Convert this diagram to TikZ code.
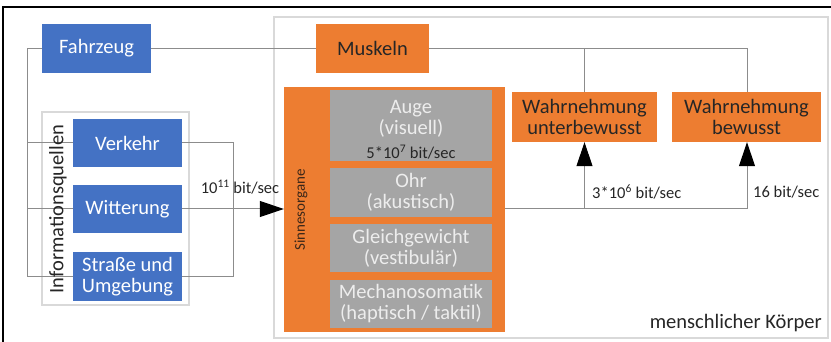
\documentclass[tikz,border=0pt]{standalone}
\usepackage{fontspec}
\setmainfont{Carlito}
\usetikzlibrary{arrows.meta}
\definecolor{cblue}{HTML}{4472C4}
\definecolor{corange}{HTML}{ED7D31}
\definecolor{cgray}{HTML}{A5A5A5}
\definecolor{cline}{HTML}{8C8C8C}
\definecolor{cframe}{HTML}{D9D9D9}
\definecolor{ctext}{HTML}{262626}
\newcommand{\bigf}{\fontsize{20.5}{24}\selectfont}
\newcommand{\smallf}{\fontsize{16.5}{19}\selectfont}
\tikzset{
  x=1pt, y=-1pt,
  box/.style={inner sep=0pt, align=center, font=\bigf},
  bluebox/.style={box, fill=cblue, text=white},
  orangebox/.style={box, fill=corange, text=ctext},
  graybox/.style={box, fill=cgray, text=white!93!black, minimum width=162pt},
  conn/.style={draw=cline, line width=1pt},
  arr/.style={conn, -{Triangle[width=16pt,length=24pt,color=black]}},
  lbl/.style={inner sep=0pt, font=\smallf, text=ctext},
}
\begin{document}
\begin{tikzpicture}
\useasboundingbox (0,0) rectangle (831,342);
\fill[white] (0,0) rectangle (831,342);
% outer frame
\draw[line width=2pt, black] (3,342) -- (3,7) -- (831,7);
% body frame
\draw[cframe, line width=1.5pt] (274,17) rectangle (828,338);
\node[lbl, font=\bigf, anchor=east] (koerper) at (822,323) {menschlicher Körper};
% info sources frame
\draw[cframe, line width=1.5pt] (42,112) rectangle (189,305);

% nodes
\node[bluebox, minimum width=109pt, minimum height=49pt] (fahrzeug) at (96.5,48.5) {Fahrzeug};
\node[bluebox, minimum width=109pt, minimum height=48pt] (verkehr) at (127.5,143) {Verkehr};
\node[bluebox, minimum width=109pt, minimum height=48pt] (witterung) at (127.5,209) {Witterung};
\node[bluebox, minimum width=109pt, minimum height=49pt] (strasse) at (127.5,276.5) {Straße und\\[-3pt]Umgebung};
\node[orangebox, minimum width=113pt, minimum height=49pt] (muskeln) at (372.5,48.5) {Muskeln};
\node[orangebox, minimum width=221pt, minimum height=245pt] (sinne) at (394.5,209.5) {};
\node[graybox, minimum height=71pt] (auge) at (411,125.5) {};
\node[box, text=white!93!black] (augetxt) at (411,119) {Auge\\[-3pt](visuell)};
\node[lbl, text=ctext] (augerate) at (411,152) {5*10\textsuperscript{7} bit/sec};
\node[graybox, minimum height=49pt] (ohr) at (411,192.5) {Ohr\\[-3pt](akustisch)};
\node[graybox, minimum height=48pt] (gleich) at (411,248) {Gleichgewicht\\[-3pt](vestibulär)};
\node[graybox, minimum height=48pt] (mech) at (411,304) {Mechanosomatik\\[-3pt](haptisch / taktil)};
\node[orangebox, minimum width=145pt, minimum height=50pt] (wu) at (584.5,117) {Wahrnehmung\\[-3pt]unterbewusst};
\node[orangebox, minimum width=149pt, minimum height=50pt] (wb) at (746.5,117) {Wahrnehmung\\[-3pt]bewusst};

% coordinates
\coordinate (lx) at (27,48.5);
\coordinate (rx) at (233,143);
\coordinate (topr) at (747,48.5);

% left bus
\draw[conn] (fahrzeug.west) -- (lx) -- (lx |- strasse.west) -- (strasse.west);
\draw[conn] (lx |- verkehr.west) -- (verkehr.west);
\draw[conn] (lx |- witterung.west) -- (witterung.west);
% right bus
\draw[conn] (verkehr.east) -- (rx) -- (rx |- strasse.east) -- (strasse.east);
\draw[conn] (witterung.east) -- (rx |- witterung.east);
\draw[arr] (rx |- witterung.east) -- (sinne.west |- witterung.east);
% top line
\draw[conn] (fahrzeug.east) -- (muskeln.west);
\draw[conn] (muskeln.east) -- (topr) -- (wb.north -| topr);
\draw[conn] (wu.north |- topr) -- (wu.north);
% sense output
\coordinate (sout) at (sinne.east |- 0,209);
\draw[conn] (sout) -- (topr |- sout);
\draw[arr] (topr |- sout) -- (wb.south -| topr);
\draw[arr] (wu.south |- sout) -- (wu.south);

% rotated labels
\node[inner sep=0pt, font=\bigf, text=ctext, rotate=90] (infoq) at (58,209) {Informationsquellen};
\node[inner sep=0pt, font=\fontsize{15}{18}\selectfont, text=ctext!70!corange!60!black, rotate=90] (sinnetxt) at (301,210) {Sinnesorgane};

% rate labels
\node[lbl, anchor=center] (r1) at (240,187) {10\textsuperscript{11} bit/sec};
\node[lbl, anchor=west] (r2) at (592,192) {3*10\textsuperscript{6} bit/sec};
\node[lbl, anchor=west] (r3) at (753,192) {16 bit/sec};
\end{tikzpicture}
\end{document}
